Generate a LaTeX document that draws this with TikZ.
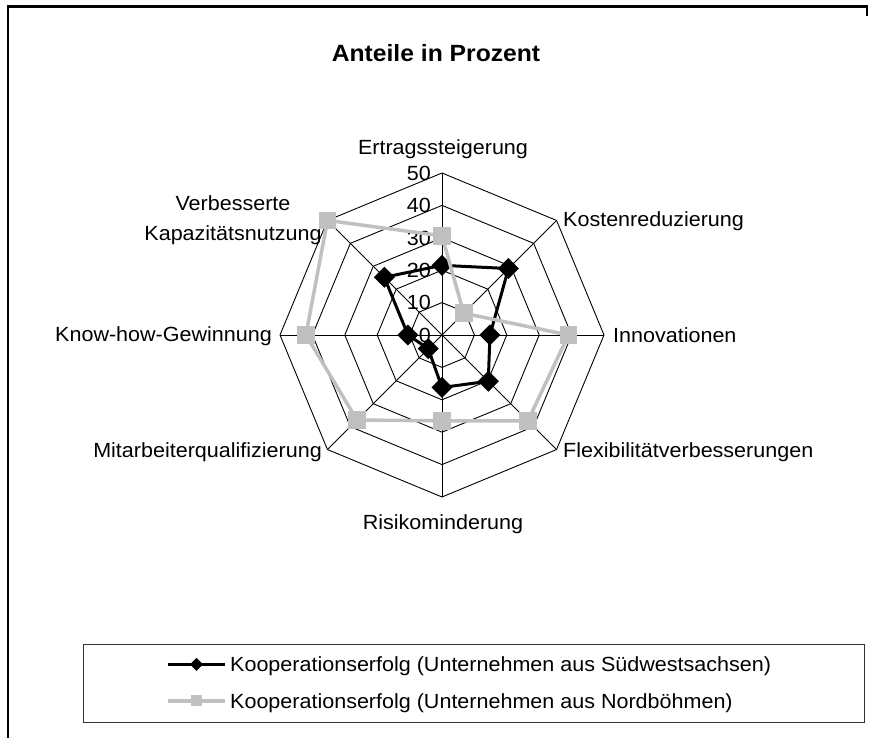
\documentclass[tikz,border=0pt]{standalone}
\usepackage{fontspec}
\setmainfont{Liberation Sans}[FakeStretch=1.05]
\definecolor{silverc}{RGB}{192,192,192}
\begin{document}
\begin{tikzpicture}[x=1pt,y=1pt,
  gridline/.style={black, line width=0.9pt},
  lbl/.style={inner sep=0pt, font=\fontsize{20.5}{24}\selectfont, text height=14.7pt, text depth=0pt},
  numlbl/.style={lbl, anchor=east},
  blackser/.style={black, line width=3pt, line join=round},
  grayser/.style={silverc, line width=3.5pt, line join=round},
  frameline/.style={black, line width=2.5pt},
  legbox/.style={draw=black!80, line width=1pt, inner sep=0pt}]
\useasboundingbox (0,0) rectangle (870,738);
% outer frame (partly visible)
\draw[frameline] (8,0) -- (8,731.5) -- (867,731.5) -- (867,722);
% title
\node[inner sep=0pt, font=\bfseries\fontsize{23.5}{28}\selectfont, text height=16.8pt, text depth=0pt] (title) at (436,685) {Anteile in Prozent};
\begin{scope}[shift={(442,403)}]
  % grid rings
  \foreach \k in {1,...,5} {
    \draw[gridline] (0:{\k*32.4}) \foreach \a in {45,90,...,315} { -- (\a:{\k*32.4}) } -- cycle;
  }
  % spokes
  \foreach \a in {0,45,...,315} \draw[gridline] (0,0) -- (\a:162);
  % scale labels
  \foreach \k in {0,...,5} {
    \pgfmathtruncatemacro{\val}{\k*10}
    \node[numlbl] (tick\k) at (-11,{\k*32.4}) {\val};
  }
  % data points
  \foreach \v [count=\i] in {21.5,29,14.8,20.2,16.2,6,10.5,25.2}
    \coordinate (b\i) at ({90-45*(\i-1)}:{\v*3.24});
  \foreach \v [count=\i] in {30.6,9.5,39,37.5,26.5,37.1,42,50}
    \coordinate (g\i) at ({90-45*(\i-1)}:{\v*3.24});
\end{scope}
% black series
\draw[blackser] (b1) -- (b2) -- (b3) -- (b4) -- (b5) -- (b6) -- (b7) -- (b8) -- cycle;
\foreach \i in {1,...,8}
  \fill[black] (b\i) +(-10.5,0) -- +(0,10.5) -- +(10.5,0) -- +(0,-10.5) -- cycle;
% gray series
\draw[grayser] (g1) -- (g2) -- (g3) -- (g4) -- (g5) -- (g6) -- (g7) -- (g8) -- cycle;
\foreach \i in {1,...,8}
  \fill[silverc] (g\i) +(-8.8,-8.8) rectangle +(8.8,8.8);
% axis labels
\node[lbl] (ertrag) at (443,591) {Ertragssteigerung};
\node[lbl, anchor=west] (kosten) at (563,519) {Kostenreduzierung};
\node[lbl, anchor=west] (innov) at (613,403) {Innovationen};
\node[lbl, anchor=west] (flex) at (563,288) {Flexibilitätverbesserungen};
\node[lbl] (risiko) at (443,216.3) {Risikominderung};
\node[lbl, anchor=east] (mitarb) at (322,288) {Mitarbeiterqualifizierung};
\node[lbl, anchor=east] (knowhow) at (272,404) {Know-how-Gewinnung};
\node[lbl] (verb) at (233,535) {Verbesserte};
\node[lbl] (kapaz) at (233,505) {Kapazitätsnutzung};
% legend
\node[legbox, minimum width=781pt, minimum height=78pt] (legend) at (473.5,54) {};
\coordinate (la1) at (168,73.7);
\coordinate (lb1) at (225,73.7);
\coordinate (lm1) at (196.5,73.7);
\coordinate (la2) at (168,37);
\coordinate (lb2) at (225,37);
\coordinate (lm2) at (196.5,37);
\draw[blackser] (la1) -- (lb1);
\fill[black] (lm1) +(-6.5,0) -- +(0,6.5) -- +(6.5,0) -- +(0,-6.5) -- cycle;
\draw[grayser] (la2) -- (lb2);
\fill[silverc] (lm2) +(-5.5,-5.5) rectangle +(5.5,5.5);
\node[lbl, anchor=west] (leg1) at (230,73.7) {Kooperationserfolg (Unternehmen aus Südwestsachsen)};
\node[lbl, anchor=west] (leg2) at (230,37) {Kooperationserfolg (Unternehmen aus Nordböhmen)};
\end{tikzpicture}
\end{document}
